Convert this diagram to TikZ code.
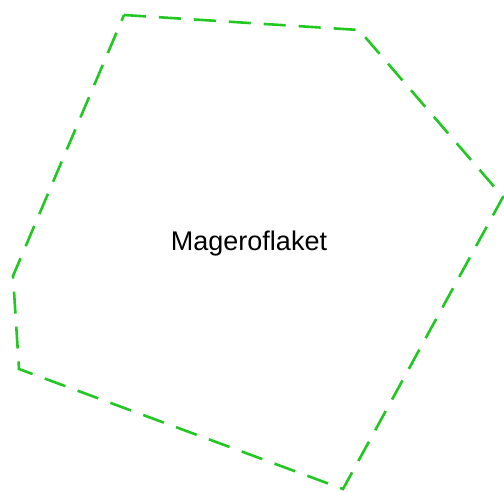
\documentclass[tikz,border=0pt]{standalone}
\usepackage{fontspec}
\setmainfont{Liberation Sans}
\tikzstyle{every node}=[font=\fontsize{27pt}{31pt}\selectfont]
\tikzstyle{areaborder}=[draw={rgb,255:red,34;green,200;blue,34}, line width=2.6pt, dash pattern=on 22pt off 13pt, line join=miter]

\begin{document}
\begin{tikzpicture}[x=1pt, y=-1pt]
	            % Rámeček obrázku
	            \useasboundingbox (0,0) rectangle (504,492);

	            % Vrcholy oblasti
	            \coordinate (topleft) at (124,15);
	            \coordinate (topright) at (359,30);
	            \coordinate (east) at (503,197);
	            \coordinate (south) at (343,489);
	            \coordinate (southwest) at (19,369);
	            \coordinate (west) at (13,276);

	            % Hranice oblasti
	            \draw[areaborder] (topleft) -- (topright) -- (east) -- (south) -- (southwest) -- (west) -- cycle;

	            % Název
	            \node[anchor=base] (name) at (249,251) {Mageroflaket};
	        \end{tikzpicture}
\end{document}
